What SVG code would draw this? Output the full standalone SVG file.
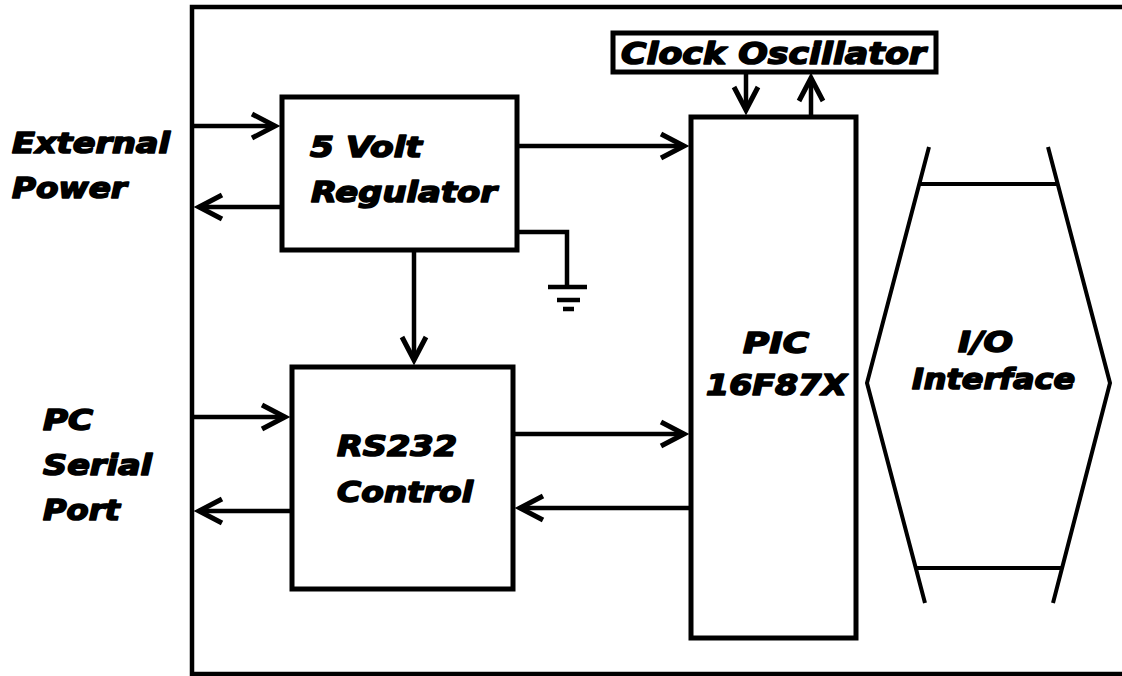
<svg xmlns="http://www.w3.org/2000/svg" width="1122" height="676" viewBox="0 0 1122 676">
<style>
.t{font-family:"DejaVu Sans","Liberation Sans",sans-serif;font-weight:bold;font-style:oblique;font-size:28px;fill:#000;stroke:#000;stroke-width:1.6px;stroke-linejoin:round;}
.big{font-size:30px;}
.box{fill:#fff;stroke:#000;stroke-width:5;}
.ln{fill:none;stroke:#000;stroke-width:4.5;}
.thin{fill:none;stroke:#000;stroke-width:4;}
</style>
<defs>
<marker id="ah" markerUnits="userSpaceOnUse" markerWidth="40" markerHeight="40" viewBox="-30 -20 40 40" refX="0" refY="0" orient="auto" overflow="visible">
<path d="M-23,-12 L0,0 L-23,12" fill="none" stroke="#000" stroke-width="5" stroke-linejoin="miter"/>
</marker>
</defs>
<rect width="1122" height="676" fill="#fff"/>
<g id="frame">
<path class="ln" d="M1122,7 H192 V674 H1122" stroke-width="5"/>
</g>
<g id="labels">
<text class="t" x="12" y="153" textLength="158" lengthAdjust="spacingAndGlyphs">External</text>
<text class="t" x="12" y="198" textLength="115" lengthAdjust="spacingAndGlyphs">Power</text>
<text class="t" x="43" y="430" textLength="50" lengthAdjust="spacingAndGlyphs">PC</text>
<text class="t" x="43" y="475" textLength="109" lengthAdjust="spacingAndGlyphs">Serial</text>
<text class="t" x="43" y="520" textLength="77" lengthAdjust="spacingAndGlyphs">Port</text>
</g>
<g id="connectors">
<path class="ln" d="M192,126 H275" marker-end="url(#ah)"/>
<path class="ln" d="M282,207 H199" marker-end="url(#ah)"/>
<path class="ln" d="M517,146 H684" marker-end="url(#ah)"/>
<path class="ln" d="M414,250 V360" marker-end="url(#ah)"/>
<path class="ln" d="M192,417 H285" marker-end="url(#ah)"/>
<path class="ln" d="M292,511 H199" marker-end="url(#ah)"/>
<path class="ln" d="M513,434 H684" marker-end="url(#ah)"/>
<path class="ln" d="M691,508 H520" marker-end="url(#ah)"/>
<path class="ln" d="M746,72 V110" marker-end="url(#ah)"/>
<path class="ln" d="M811,117 V78" marker-end="url(#ah)"/>
<path class="ln" d="M517,232 H567 V287"/>
<path class="ln" d="M548,287 H587 M557,300 H580 M563,309 H574"/>
</g>
<g id="regulator">
<rect class="box" x="282" y="97" width="235" height="153"/>
<text class="t" x="310" y="157" textLength="112" lengthAdjust="spacingAndGlyphs">5 Volt</text>
<text class="t" x="311" y="202" textLength="186" lengthAdjust="spacingAndGlyphs">Regulator</text>
</g>
<g id="rs232">
<rect class="box" x="292" y="367" width="221" height="222"/>
<text class="t" x="337" y="456" textLength="120" lengthAdjust="spacingAndGlyphs">RS232</text>
<text class="t" x="337" y="502" textLength="136" lengthAdjust="spacingAndGlyphs">Control</text>
</g>
<g id="pic">
<rect class="box" x="691" y="117" width="165" height="521"/>
<text class="t" x="743" y="353" textLength="66" lengthAdjust="spacingAndGlyphs">PIC</text>
<text class="t" x="706" y="395" textLength="141" lengthAdjust="spacingAndGlyphs">16F87X</text>
</g>
<g id="clock">
<rect class="box" x="613" y="33" width="323" height="39" stroke-width="4"/>
<text class="t big" x="621" y="64" textLength="305" lengthAdjust="spacingAndGlyphs">Clock Oscillator</text>
</g>
<g id="io">
<path class="thin" d="M929,147 L867,383 L925,603 M1048,147 L1110,383 L1053,603 M919,184 H1058 M916,568 H1061"/>
<text class="t" x="958" y="352" textLength="55" lengthAdjust="spacingAndGlyphs">I/O</text>
<text class="t" x="912" y="389" textLength="163" lengthAdjust="spacingAndGlyphs">Interface</text>
</g>
</svg>
